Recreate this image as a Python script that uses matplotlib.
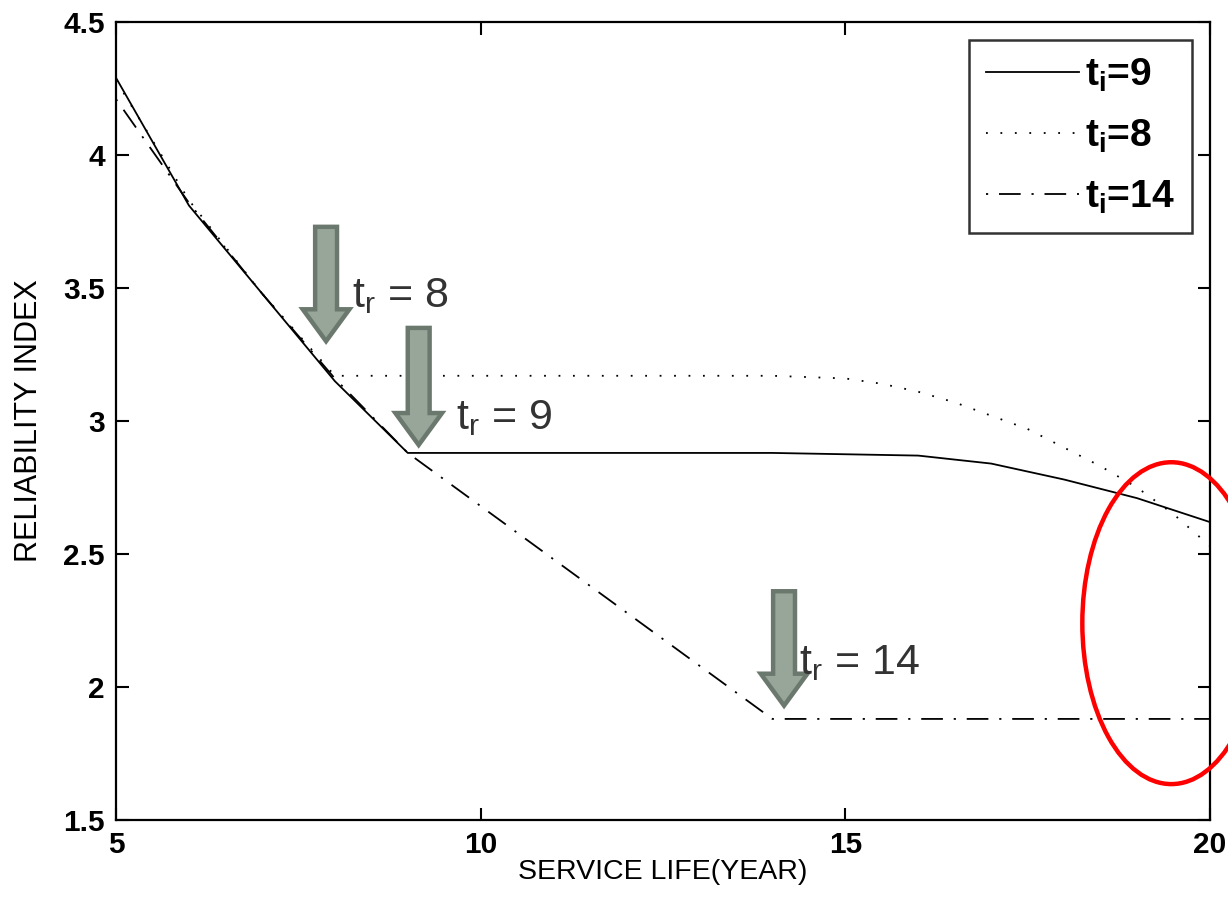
import matplotlib
matplotlib.use('Agg')

import matplotlib.pyplot as plt
from matplotlib.patches import FancyArrow, Ellipse

plt.rcParams['font.family'] = ['Liberation Sans', 'DejaVu Sans']
plt.rcParams['mathtext.fontset'] = 'custom'
plt.rcParams['mathtext.rm'] = 'Liberation Sans'
plt.rcParams['mathtext.bf'] = 'Liberation Sans:bold'

# service life (years) and reliability index of the three cases
years_9 = [5, 6, 7, 8, 9, 10, 11, 12, 13, 14, 15, 16, 17, 18, 19, 20]
beta_9 = [4.29, 3.81, 3.48, 3.15, 2.88, 2.88, 2.88, 2.88, 2.88, 2.88, 2.875,
          2.87, 2.84, 2.78, 2.71, 2.62]

years_8 = [5, 6, 7, 8, 9, 10, 11, 12, 13, 14, 15, 15.5, 16, 16.5, 17, 17.5,
           18, 18.5, 19, 19.5, 20]
beta_8 = [4.28, 3.83, 3.48, 3.17, 3.17, 3.17, 3.17, 3.17, 3.17, 3.17, 3.16,
          3.14, 3.11, 3.07, 3.02, 2.97, 2.90, 2.83, 2.75, 2.65, 2.53]

years_14 = [5, 6, 7, 8, 9, 10, 11, 12, 13, 14, 15, 16, 17, 18, 19, 20]
beta_14 = [4.21, 3.82, 3.48, 3.16, 2.88, 2.68, 2.48, 2.28, 2.08, 1.88, 1.88,
           1.88, 1.88, 1.88, 1.88, 1.88]

legend_labels = [r'$\mathbf{t_i}$=9', r'$\mathbf{t_i}$=8', r'$\mathbf{t_i}$=14']

# repair times: arrow x, arrow top, arrow tip, label
repair_x = [7.88, 9.15, 14.16]
repair_top = [3.73, 3.35, 2.36]
repair_tip = [3.30, 2.91, 1.93]
repair_text = [r'$\mathrm{t_r}$ = 8', r'$\mathrm{t_r}$ = 9', r'$\mathrm{t_r}$ = 14']
text_pos = [(8.23, 3.47), (9.66, 3.01), (14.37, 2.09)]

fig = plt.figure(figsize=(12.28, 9.02), dpi=100)
ax = fig.add_axes([0.0945, 0.0909, 0.8908, 0.8847])

ax.plot(years_9, beta_9, color='black', lw=1.3, label=legend_labels[0])
ax.plot(years_8, beta_8, color='black', lw=1.3, linestyle=(0, (1, 7)),
        label=legend_labels[1])
ax.plot(years_14, beta_14, color='black', lw=1.3,
        linestyle=(0, (1.2, 6, 12, 6)), label=legend_labels[2])

for x, top, tip, txt, pos in zip(repair_x, repair_top, repair_tip,
                                 repair_text, text_pos):
    arr = FancyArrow(x, top, 0, tip - top, width=0.30, head_width=0.64,
                     head_length=0.12, length_includes_head=True,
                     facecolor='#97a699', edgecolor='#6b786d', lw=3.2, zorder=5)
    ax.add_patch(arr)
    ax.text(pos[0], pos[1], txt, fontsize=31, color='#333333',
            va='center', ha='left', zorder=6)

ell = Ellipse((19.47, 2.24), 2.44, 1.21, fill=False, edgecolor='red',
              lw=3.2, clip_on=False, zorder=7)
ax.add_patch(ell)

ax.set_xlim(5, 20)
ax.set_ylim(1.5, 4.5)
ax.set_xticks([5, 10, 15, 20])
ax.set_yticks([1.5, 2, 2.5, 3, 3.5, 4, 4.5])
ax.set_yticklabels(['1.5', '2', '2.5', '3', '3.5', '4', '4.5'])
ax.tick_params(direction='in', length=9, width=1.5, top=True, right=True,
               labelsize=21.5, pad=8)
for lab in ax.get_xticklabels() + ax.get_yticklabels():
    lab.set_fontweight('bold')
for sp in ax.spines.values():
    sp.set_linewidth(1.6)

ax.set_xlabel('SERVICE LIFE(YEAR)', fontsize=20.5, labelpad=0)
ax.set_ylabel('RELIABILITY INDEX', fontsize=22, labelpad=14)

leg = ax.legend(loc='upper right', frameon=True, fancybox=False,
                edgecolor='black', handlelength=2.4, handletextpad=0.15,
                borderpad=0.45, labelspacing=0.6, borderaxespad=0.45,
                prop={'weight': 'bold', 'size': 28})
leg.get_frame().set_linewidth(1.8)

fig.savefig('out.png', dpi=100)
